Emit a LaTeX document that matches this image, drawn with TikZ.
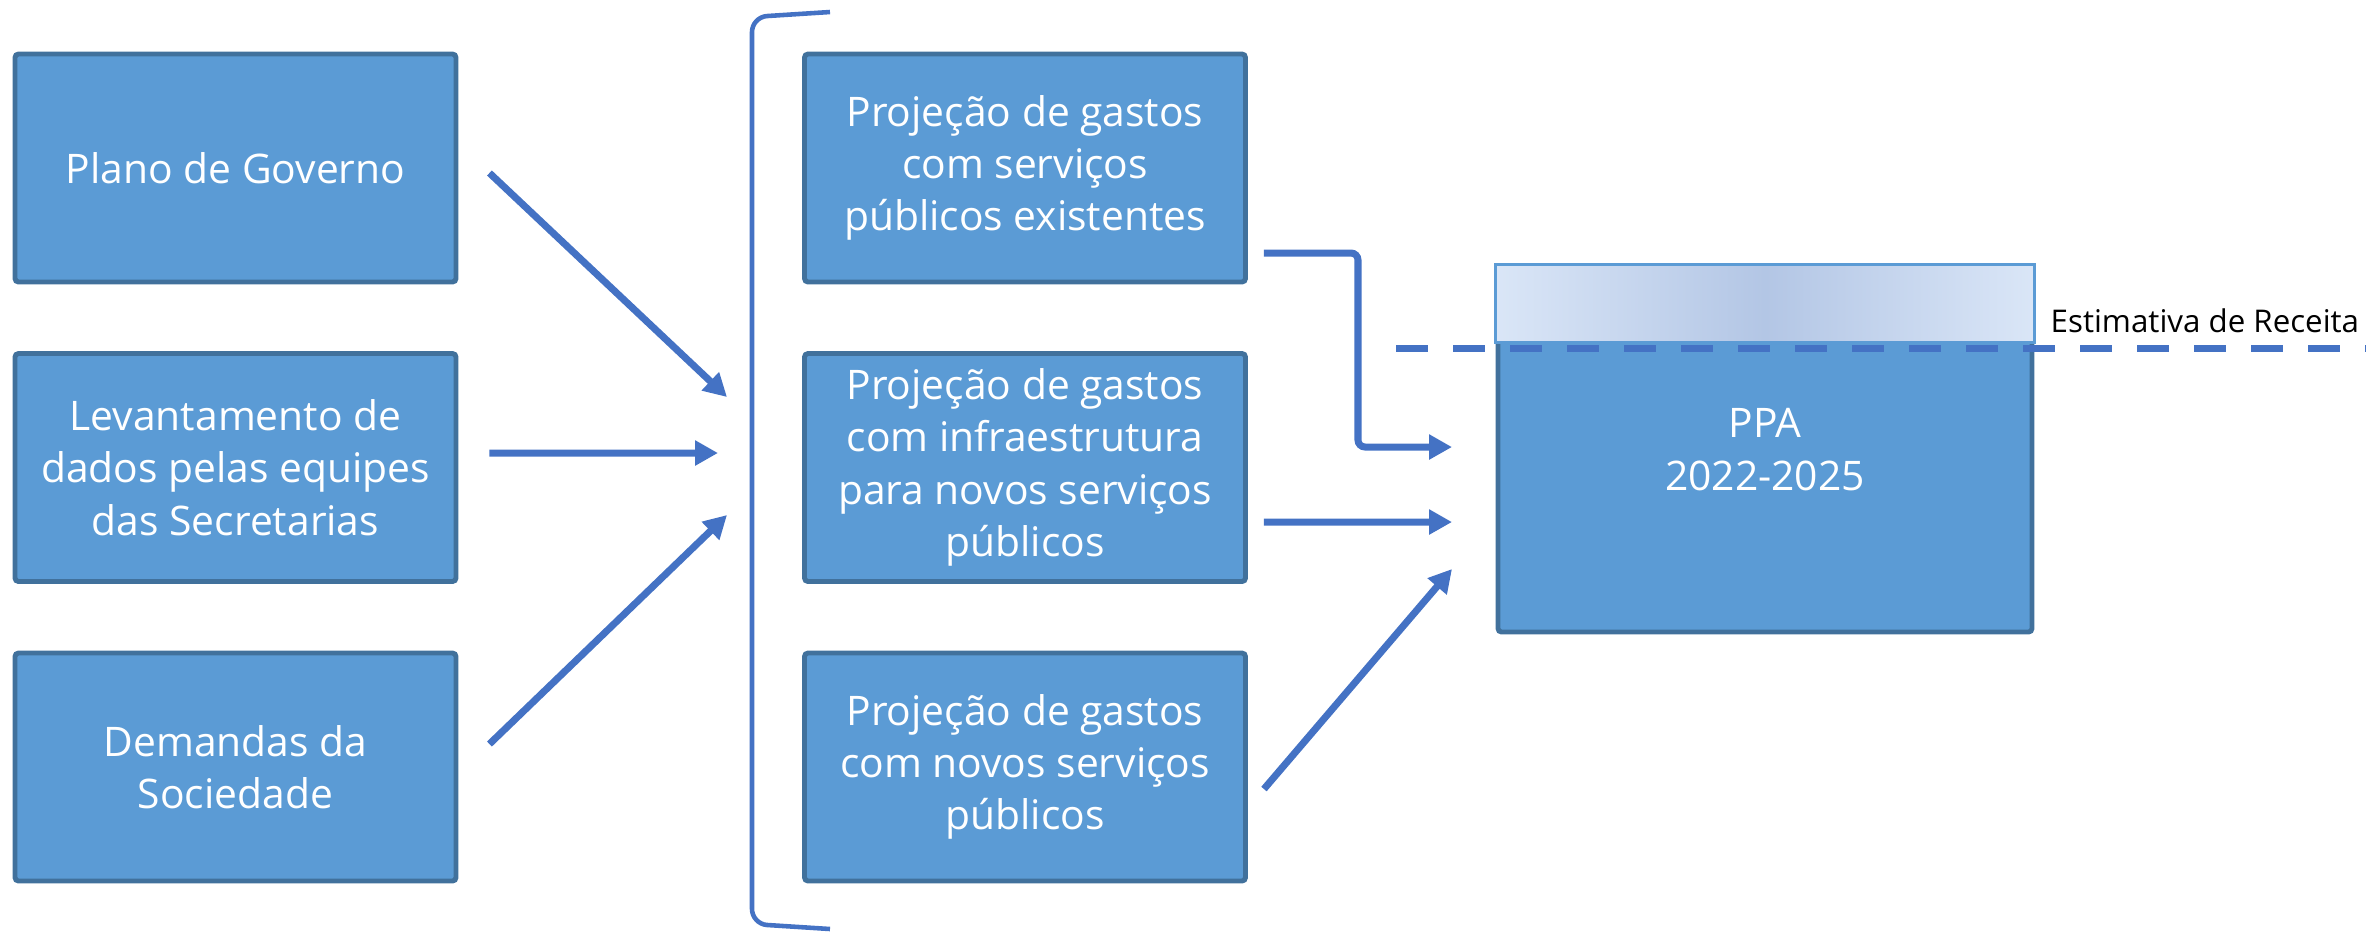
\documentclass[tikz,border=0pt]{standalone}
\usepackage{fontspec}
\setmainfont{Open Sans}
\usepackage{tikz}
\usetikzlibrary{arrows.meta}
\definecolor{boxfill}{HTML}{5B9BD5}
\definecolor{boxline}{HTML}{41719C}
\definecolor{arrowblue}{HTML}{4472C4}
\definecolor{topedge}{HTML}{DAE6F7}
\definecolor{topmid}{HTML}{B3C6E5}

\begin{document}
\begin{tikzpicture}
	\tikzstyle{block}=[rectangle,draw=boxline,fill=boxfill,line width=1.4pt,rounded corners=1pt,minimum width=4.41cm,minimum height=2.28cm,inner sep=2pt,align=center,text=white,font=\fontsize{11.6}{14.9}\selectfont]
	\tikzstyle{flow}=[draw=arrowblue,line width=2pt,-{Triangle[length=0.23cm,width=0.24cm]}]
	\useasboundingbox (0,0) rectangle (23.66,-9.31);
	\node[block] (a1) at (2.355,-1.68) {Plano de Governo};
	\node[block] (a2) at (2.355,-4.675) {Levantamento de\\dados pelas equipes\\das Secretarias};
	\node[block] (a3) at (2.355,-7.67) {Demandas da\\Sociedade};
	\node[block] (b1) at (10.25,-1.68) {Projeção de gastos\\com serviços\\públicos existentes};
	\node[block] (b2) at (10.25,-4.675) {Projeção de gastos\\com infraestrutura\\para novos serviços\\públicos};
	\node[block] (b3) at (10.25,-7.67) {Projeção de gastos\\com novos serviços\\públicos};
	\node[block,minimum width=5.34cm,minimum height=3.65cm] (ppa) at (17.65,-4.495) {PPA\\2022-2025};
	% faixa da receita
	\shade[left color=topedge,right color=topedge,middle color=topmid,draw=boxfill,line width=0.8pt] (ppa.north west) rectangle ([yshift=-0.78cm]ppa.north east);
	\draw[arrowblue,line width=2pt,dash pattern=on 0.32cm off 0.25cm] (13.96,-3.48) -- (23.66,-3.48);
	\node[anchor=base west,inner sep=0,font=\fontsize{8.9}{10}\selectfont] (rec) at (20.50,-3.32) {Estimativa de Receita};
	% chave
	\draw[arrowblue,line width=1.3pt,rounded corners=0.15cm] (8.30,-0.12) -- (7.52,-0.17) -- (7.52,-9.24) -- (8.30,-9.29);
	\coordinate (e1) at (7.27,-3.97);
	\coordinate (e2) at (7.18,-4.53);
	\coordinate (e3) at (7.27,-5.15);
	\coordinate (f1) at (14.52,-4.47);
	\coordinate (f2) at (14.52,-5.22);
	\coordinate (f3) at (14.52,-5.69);
	\draw[flow] ([xshift=0.31cm,yshift=-0.05cm]a1.east) -- (e1);
	\draw[flow] ([xshift=0.31cm,yshift=0.145cm]a2.east) -- (e2);
	\draw[flow] ([xshift=0.31cm,yshift=0.23cm]a3.east) -- (e3);
	\draw[flow,rounded corners=2pt] ([xshift=0.16cm,yshift=-0.85cm]b1.east) -| (13.58,-4.47) -- (f1);
	\draw[flow] ([xshift=0.16cm,yshift=-0.545cm]b2.east) -- (f2);
	\draw[flow] ([xshift=0.16cm,yshift=-0.22cm]b3.east) -- (f3);
\end{tikzpicture}
\end{document}
